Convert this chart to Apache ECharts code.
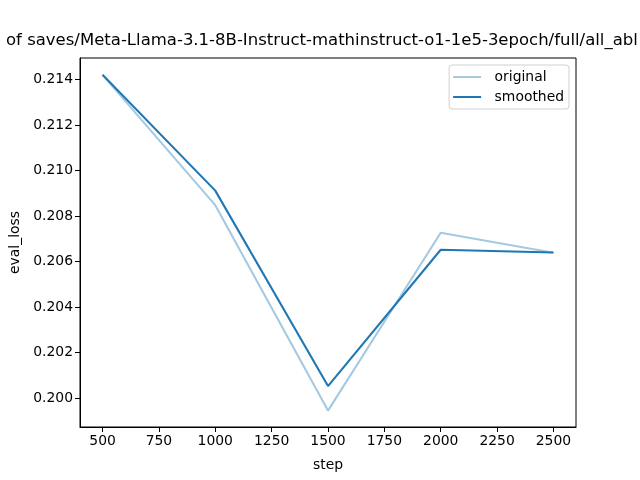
<!DOCTYPE html>
<html><head><meta charset="utf-8">
<script src="https://cdn.jsdelivr.net/npm/echarts@6/dist/echarts.min.js"></script>
<style>html,body{margin:0;padding:0;background:#fff}#c{width:640px;height:480px}</style>
</head><body><div id="c"></div>
<script>
var steps = [500, 1000, 1500, 2000, 2500];
var original = [0.21421, 0.20848, 0.19945, 0.20727, 0.20639];
var smoothed = [0.21421, 0.20912, 0.20053, 0.20652, 0.20640];
var xTicks = [500, 750, 1000, 1250, 1500, 1750, 2000, 2250, 2500];
var yTicks = [0.200, 0.202, 0.204, 0.206, 0.208, 0.210, 0.212, 0.214];
var titleText = 'of saves/Meta-Llama-3.1-8B-Instruct-mathinstruct-o1-1e5-3epoch/full/all_abl';

var font = 'DejaVu Sans';
var lineIcon = 'path://M0,0 L28,0 L28,2 L0,2 Z';
var chart = echarts.init(document.getElementById('c'), null, {renderer: 'canvas'});
function pairs(xs, ys) { return xs.map(function (x, i) { return [x, ys[i]]; }); }
chart.setOption({
  animation: false,
  backgroundColor: '#fff',
  textStyle: {fontFamily: font},
  title: {
    text: titleText, left: 6, top: 32, padding: 0,
    textStyle: {fontFamily: font, fontSize: 16.5, fontWeight: 'normal', color: '#000'}
  },
  grid: {left: 80, right: 64, top: 58, bottom: 53, show: true, borderColor: '#000', borderWidth: 1, containLabel: false},
  legend: {
    right: 71, top: 65, orient: 'vertical', itemWidth: 29, itemHeight: 2, itemGap: 4,
    padding: [4, 5, 4, 4], borderColor: '#d0d0d0', borderWidth: 1, borderRadius: 3, backgroundColor: '#fff',
    textStyle: {fontFamily: font, fontSize: 13.9, color: '#000', padding: [0, 0, 0, 8], lineHeight: 16},
    data: [{name: 'original', icon: lineIcon}, {name: 'smoothed', icon: lineIcon}]
  },
  xAxis: {
    type: 'value', min: 400, max: 2600,
    name: 'step', nameLocation: 'middle', nameGap: 31,
    nameTextStyle: {fontFamily: font, fontSize: 13.9, color: '#000'},
    splitLine: {show: false},
    axisLine: {show: true, lineStyle: {color: '#000', width: 1}},
    axisTick: {show: true, inside: false, length: 5, lineStyle: {color: '#000'}, customValues: xTicks},
    axisLabel: {fontFamily: font, fontSize: 13.9, color: '#000', margin: 7, customValues: xTicks,
      formatter: function (v) { return String(v); }}
  },
  yAxis: {
    type: 'value', min: 0.19873, max: 0.21495,
    name: 'eval_loss', nameLocation: 'middle', nameGap: 53, nameRotate: 90,
    nameTextStyle: {fontFamily: font, fontSize: 13.9, color: '#000'},
    splitLine: {show: false},
    axisLine: {show: true, lineStyle: {color: '#000', width: 1}},
    axisTick: {show: true, inside: false, length: 5, lineStyle: {color: '#000'}, customValues: yTicks},
    axisLabel: {fontFamily: font, fontSize: 13.9, color: '#000', margin: 7, customValues: yTicks,
      formatter: function (v) { return v.toFixed(3); }}
  },
  series: [
    {name: 'original', type: 'line', data: pairs(steps, original), symbol: 'none',
      lineStyle: {color: 'rgba(31,119,180,0.4)', width: 2.08}, itemStyle: {color: 'rgba(31,119,180,0.4)'}},
    {name: 'smoothed', type: 'line', data: pairs(steps, smoothed), symbol: 'none',
      lineStyle: {color: '#1f77b4', width: 2.08}, itemStyle: {color: '#1f77b4'}}
  ]
});
</script></body></html>
